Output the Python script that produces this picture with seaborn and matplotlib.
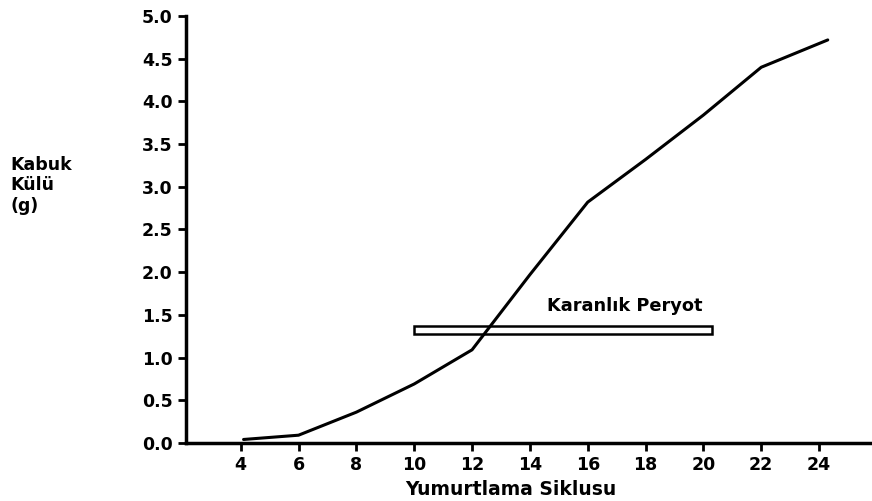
import pandas as pd
import numpy as np
import seaborn as sns
import matplotlib.pyplot as plt
from matplotlib.patches import Rectangle

# Data
siklus = [4.1, 6, 8, 10, 12, 14, 16, 18, 20, 22, 24.3]
kabuk_kulu = [0.04, 0.09, 0.36, 0.69, 1.09, 1.97, 2.82, 3.32, 3.84, 4.40, 4.72]
x_ticks = [4, 6, 8, 10, 12, 14, 16, 18, 20, 22, 24]
y_ticks = [0.0, 0.5, 1.0, 1.5, 2.0, 2.5, 3.0, 3.5, 4.0, 4.5, 5.0]

# dark period bar
karanlik_start = 10
karanlik_end = 20.3
karanlik_low = 1.28
karanlik_high = 1.37

df = pd.DataFrame({'Siklus': siklus, 'Kul': kabuk_kulu})

sns.set_style("ticks")
plt.rcParams['font.family'] = ['DejaVu Sans']
plt.rcParams['font.weight'] = 'bold'
plt.rcParams['text.color'] = 'black'

fig = plt.figure(figsize=(8.72, 5.01), dpi=100)
ax = fig.add_axes([0.213, 0.116, 0.787, 0.852])

sns.lineplot(data=df, x='Siklus', y='Kul', color='black', linewidth=2.2, ax=ax)

ax.add_patch(Rectangle((karanlik_start, karanlik_low), karanlik_end - karanlik_start,
                       karanlik_high - karanlik_low, facecolor='white',
                       edgecolor='black', linewidth=1.8, zorder=1))

ax.text(14.6, 1.6, 'Karanlık Peryot', fontsize=12.8, fontweight='bold', ha='left', va='center',
        color='black')

ax.set_xlim(2.1, 25.83)
ax.set_ylim(0, 5.0)
ax.set_xticks(x_ticks)
ax.set_yticks(y_ticks)
ax.set_yticklabels([f'{v:.1f}' for v in y_ticks])
ax.tick_params(axis='both', labelsize=12.5, width=2, length=6, direction='out', colors='black')
for lab in ax.get_xticklabels() + ax.get_yticklabels():
    lab.set_fontweight('bold')

ax.set_xlabel('')
ax.set_ylabel('')
sns.despine(ax=ax)
ax.spines['left'].set_linewidth(2.5)
ax.spines['bottom'].set_linewidth(2.5)
ax.spines['left'].set_color('black')
ax.spines['bottom'].set_color('black')

fig.text(0.012, 0.63, 'Kabuk\nKülü\n(g)', fontsize=12.5, fontweight='bold', ha='left', va='center',
         linespacing=1.2, color='black')
fig.text(0.586, 0.022, 'Yumurtlama Siklusu', fontsize=13.5, fontweight='bold', ha='center', va='center',
         color='black')

fig.savefig('out.png', dpi=100)
